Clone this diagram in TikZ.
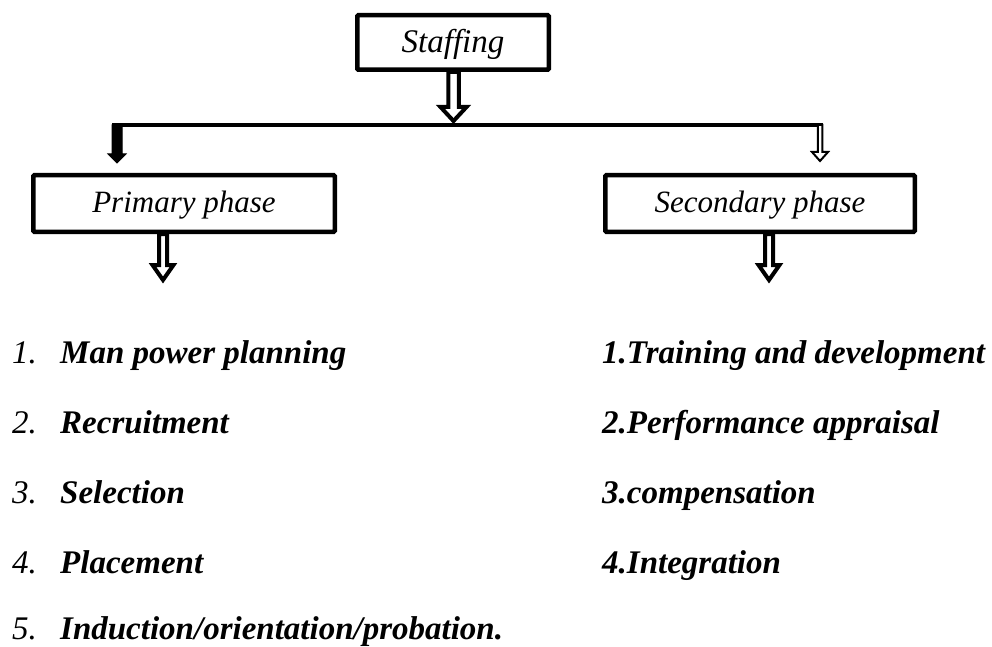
\documentclass[tikz,border=0pt]{standalone}
\usepackage{fontspec}
\setmainfont{Liberation Serif}
\usetikzlibrary{calc,backgrounds}

% Downward block arrow: style, start point, tip point,
% shaft half-width, head half-width, head length
\newcommand\downblock[6]{%
  \path[#1] let \p1=(#2), \p2=(#3) in
    (\x2-#4,\y1) -- (\x2-#4,\y2+#6) -- (\x2-#5,\y2+#6) -- (\x2,\y2)
    -- (\x2+#5,\y2+#6) -- (\x2+#4,\y2+#6) -- (\x2+#4,\y1) -- cycle;}

\tikzset{
  box/.style={draw, line width=4.5pt, rounded corners=1pt, inner sep=0pt,
    font=\fontsize{31}{31}\selectfont\itshape},
  hollow/.style={draw, fill=white, line width=4pt, line join=miter},
  thinhollow/.style={draw, fill=white, line width=2pt, line join=miter},
  solidarrow/.style={draw, fill=black, line width=1pt, line join=miter},
  bar/.style={line width=4.5pt},
  num/.style={anchor=base west, inner sep=0pt,
    font=\fontsize{33}{33}\selectfont\itshape},
  item/.style={anchor=base west, inner sep=0pt,
    font=\fontsize{33}{33}\selectfont\bfseries\itshape},
}

\begin{document}
\begin{tikzpicture}[x=1pt,y=-1pt]
\useasboundingbox (0,0) rectangle (992,647);

% boxes
\node[box, minimum width=191.5pt, minimum height=54.5pt,
      text height=26pt, text depth=5pt,
      font=\fontsize{33}{33}\selectfont\itshape] (staff) at (453,42.5) {Staffing};
\node[box, minimum width=301.5pt, minimum height=56.5pt,
      text height=24pt, text depth=7pt] (prim) at (184,203.5) {Primary phase};
\node[box, minimum width=309.5pt, minimum height=56.5pt,
      text height=24pt, text depth=7pt] (sec) at (760,203.5) {Secondary phase};

% junction points
\coordinate (barL) at (112,125);
\coordinate (barR) at (823,125);
\coordinate (stafftip) at (453.5,121);
\coordinate (dropL) at (117,125);
\coordinate (tipL) at (117,163);
\coordinate (dropR) at (820,125);
\coordinate (tipR) at (820,161);
\coordinate (primtip) at (163,280);
\coordinate (sectip) at (769,280);

\begin{scope}[on background layer]
  \draw[bar] (barL) -- (barR);
  \downblock{hollow}{staff.south}{stafftip}{5.25pt}{13pt}{14pt}
  \downblock{solidarrow}{dropL}{tipL}{5pt}{9pt}{9pt}
  \downblock{thinhollow}{dropR}{tipR}{2.25pt}{8pt}{9pt}
  \downblock{hollow}{prim.south}{primtip}{4pt}{10.5pt}{15pt}
  \downblock{hollow}{sec.south}{sectip}{4pt}{10.5pt}{15pt}
\end{scope}

% primary phase list
\node[num]  (n1) at (12,363) {1.};
\node[item] (p1) at (60,363) {Man power planning};
\node[num]  (n2) at (12,433) {2.};
\node[item] (p2) at (60,433) {Recruitment};
\node[num]  (n3) at (12,503) {3.};
\node[item] (p3) at (60,503) {Selection};
\node[num]  (n4) at (12,573) {4.};
\node[item] (p4) at (60,573) {Placement};
\node[num]  (n5) at (12,639) {5.};
\node[item] (p5) at (60,639) {Induction/orientation/probation.};

% secondary phase list
\node[item] (s1) at (602,363) {1.Training and development};
\node[item] (s2) at (602,433) {2.Performance appraisal};
\node[item] (s3) at (602,503) {3.compensation};
\node[item] (s4) at (602,573) {4.Integration};
\end{tikzpicture}
\end{document}
